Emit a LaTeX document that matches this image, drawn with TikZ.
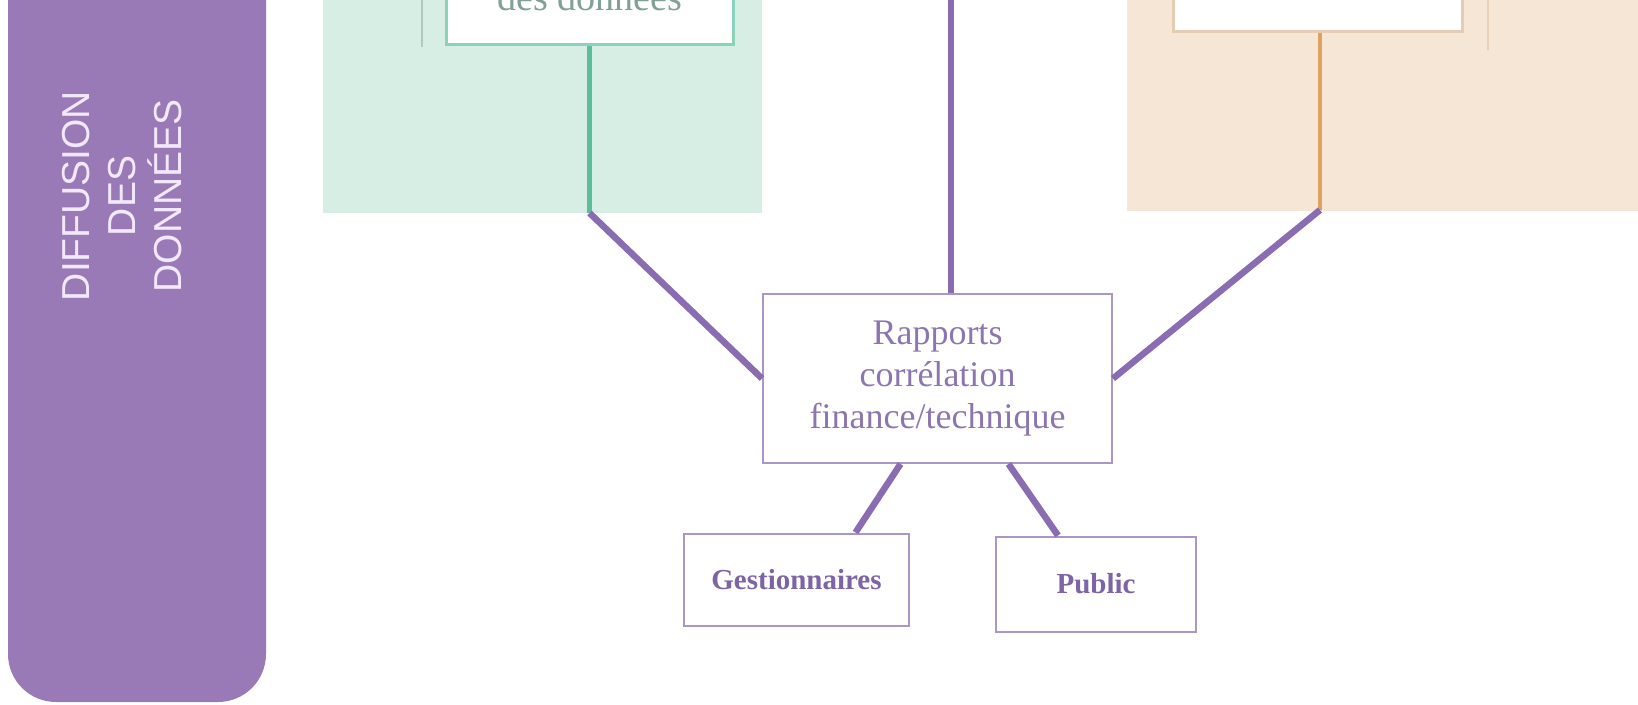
\documentclass[tikz,border=0pt]{standalone}
\usepackage{fontspec}
\setmainfont{Liberation Serif}
\setsansfont{Liberation Sans}

\definecolor{barpurple}{RGB}{154,122,182}
\definecolor{bartext}{RGB}{242,232,250}
\definecolor{linkpurple}{RGB}{138,108,178}
\definecolor{boxline}{RGB}{170,150,200}
\definecolor{rapporttext}{RGB}{140,118,176}
\definecolor{gesttext}{RGB}{125,100,165}
\definecolor{mintbg}{RGB}{215,238,229}
\definecolor{mintline}{RGB}{140,210,184}
\definecolor{mintthin}{RGB}{178,200,190}
\definecolor{greenline}{RGB}{92,190,152}
\definecolor{peachbg}{RGB}{245,230,214}
\definecolor{tanline}{RGB}{228,205,178}
\definecolor{peachthin}{RGB}{232,208,184}
\definecolor{orangeline}{RGB}{224,160,96}
\definecolor{greytext}{RGB}{130,160,150}

\tikzset{
  box/.style={draw=boxline, line width=2pt, fill=white, inner sep=0pt, align=center, text=rapporttext},
  link/.style={draw=linkpurple, line width=6.5pt},
  bigtext/.style={font=\fontsize{36}{42}\selectfont},
  smalltext/.style={font=\bfseries\fontsize{29}{34}\selectfont, text=gesttext}
}

\begin{document}
\begin{tikzpicture}[x=1pt,y=-1pt]
      \useasboundingbox (0,0) rectangle (1638,704);
      \clip (0,0) rectangle (1638,704);
      %
      \fill [barpurple, rounded corners=48pt] (8,-60) rectangle (266,702);
      \node [rotate=90, text=bartext, align=center, font=\sffamily\fontsize{39}{46}\selectfont] (titre) at (122,196) {DIFFUSION\\DES\\DONNÉES};
      %
      \fill [mintbg] (323,-10) rectangle (762,213);
      \draw [mintthin, line width=2pt] (422,-10) -- (422,47);
      \node [box, draw=mintline, line width=3pt, minimum width=287pt, minimum height=86pt, anchor=south, text=greytext,
             font=\fontsize{38}{44}\selectfont, text height=26pt, text depth=8pt] (collecte) at (589.5,46) {des données};
      %
      \fill [peachbg] (1127,-10) rectangle (1638,211);
      \draw [peachthin, line width=2pt] (1488,-10) -- (1488,50);
      \node [box, draw=tanline, line width=3pt, minimum width=289pt, minimum height=80pt, anchor=south] (analyse) at (1317.5,33) {};
      %
      \coordinate (coinvert) at (589.5,213);
      \coordinate (coinorange) at (1320,210);
      \coordinate (haut) at (951,-10);
      \draw [greenline, line width=5pt] (collecte.south) -- (coinvert);
      \draw [orangeline, line width=4pt] (analyse.south -| coinorange) -- (coinorange);
      %
      \node [box, bigtext, minimum width=349pt, minimum height=169pt] (rapports) at (937.5,378.5) {Rapports\\corrélation\\finance/technique};
      \node [box, smalltext, minimum width=225pt, minimum height=92pt] (gest) at (796.5,579.5) {Gestionnaires};
      \node [box, smalltext, minimum width=200pt, minimum height=95pt] (public) at (1096,584) {Public};
      %
      \draw [link] (haut) -- (haut |- rapports.north);
      \draw [link] (coinvert) -- (rapports.west);
      \draw [link] (coinorange) -- (rapports.east);
      \draw [link] ([xshift=-37pt]rapports.south) -- ([xshift=59pt]gest.north);
      \draw [link] ([xshift=71pt]rapports.south) -- ([xshift=-38pt]public.north);
      %
\end{tikzpicture}
\end{document}
